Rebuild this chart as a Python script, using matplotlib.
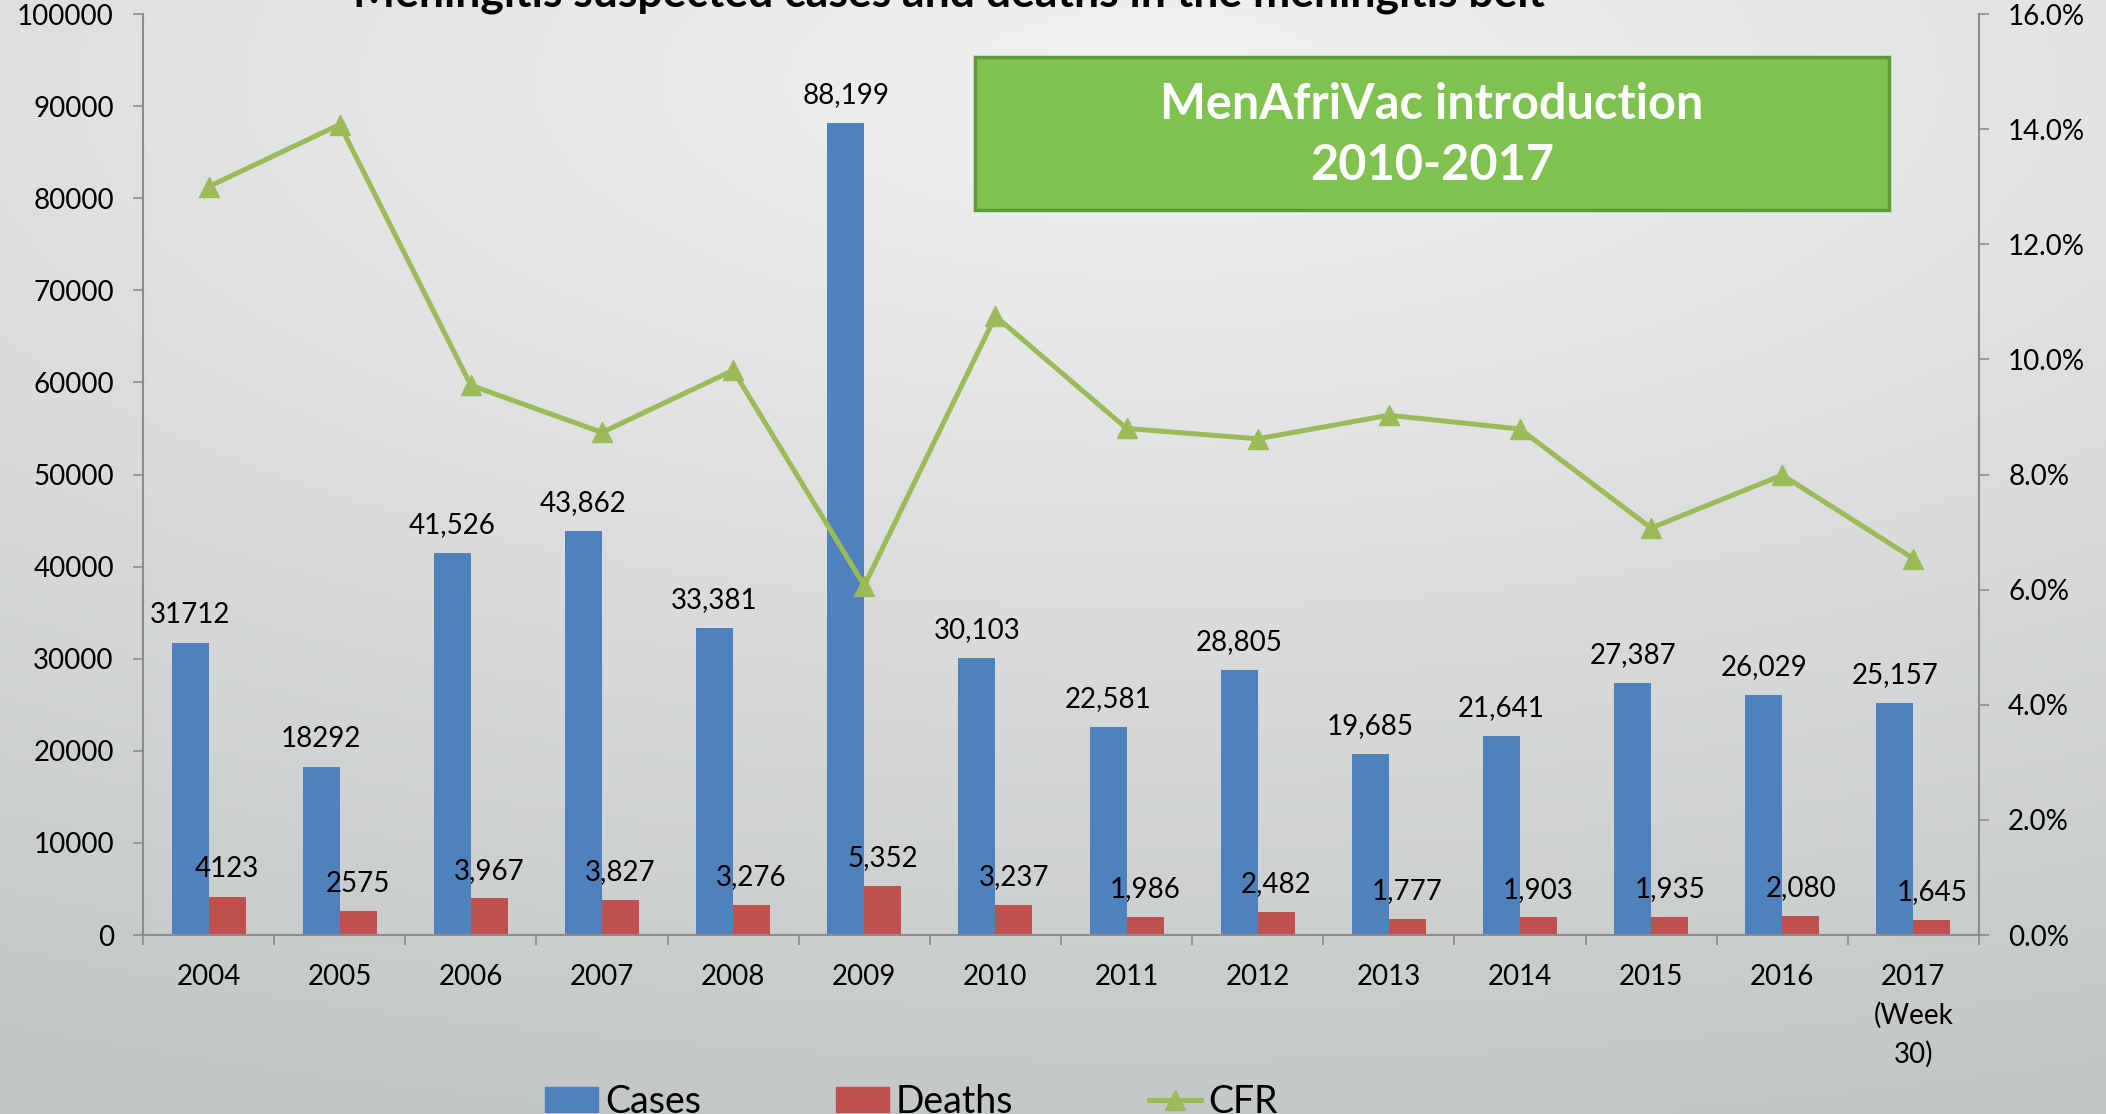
import numpy as np
import matplotlib.pyplot as plt
from matplotlib.patches import Rectangle, Patch
from matplotlib.lines import Line2D
from matplotlib.ticker import FuncFormatter, MultipleLocator

plt.rcParams['font.family'] = ['Lato', 'DejaVu Sans']

# data
years = ['2004', '2005', '2006', '2007', '2008', '2009', '2010', '2011',
         '2012', '2013', '2014', '2015', '2016', '2017\n(Week\n30)']
cases = [31712, 18292, 41526, 43862, 33381, 88199, 30103, 22581,
         28805, 19685, 21641, 27387, 26029, 25157]
deaths = [4123, 2575, 3967, 3827, 3276, 5352, 3237, 1986,
          2482, 1777, 1903, 1935, 2080, 1645]
cfr = [13.0, 14.08, 9.55, 8.73, 9.81, 6.07, 10.75, 8.80,
       8.62, 9.03, 8.79, 7.07, 7.99, 6.54]

blue = '#4f81bd'
red = '#c0504d'
green = '#9bbb59'
axis_grey = '#8c8c8c'

W, H = 2106, 1114
fig = plt.figure(figsize=(W / 100, H / 100), dpi=100)

# soft grey gradient background
bg = fig.add_axes([0, 0, 1, 1], zorder=-10)
yy, xx = np.mgrid[0:H:4, 0:W:4]
t = np.sqrt(((xx - 1150) / 3000) ** 2 + ((yy - 80) / 1200) ** 2)
t = np.clip(t, 0, 1)
light = np.array([0xf2, 0xf2, 0xf2]) / 255
dark = np.array([0xbd, 0xc1, 0xc2]) / 255
img = light + (dark - light) * t[..., None]
bg.imshow(img, aspect='auto', extent=[0, 1, 0, 1], interpolation='bilinear')
bg.axis('off')

ax = fig.add_axes([143 / W, 179 / H, (1979 - 143) / W, (935 - 14) / H])
ax.set_facecolor('none')

x = np.arange(len(years))
bw = 0.282
ax.bar(x - bw / 2, cases, bw, color=blue, zorder=2)
ax.bar(x + bw / 2, deaths, bw, color=red, zorder=2)

for i, (c, d) in enumerate(zip(cases, deaths)):
    c_lab = f'{c:,}' if i >= 2 else str(c)
    d_lab = f'{d:,}' if i >= 2 else str(d)
    ax.annotate(c_lab, (x[i] - bw / 2, c), xytext=(0, 20), textcoords='offset points',
                ha='center', va='center', fontsize=20, zorder=5)
    ax.annotate(d_lab, (x[i] + bw / 2, d), xytext=(0, 20), textcoords='offset points',
                ha='center', va='center', fontsize=20, zorder=5)

ax.set_xlim(-0.5, len(years) - 0.5)
ax.set_ylim(0, 100000)
ax.yaxis.set_major_locator(MultipleLocator(10000))
ax.set_xticks(x)
ax.set_xticklabels(years, fontsize=20, linespacing=1.55)
ax.set_xticks(np.arange(-0.5, len(years)), minor=True)
ax.tick_params(axis='x', which='major', length=0, pad=21)
ax.tick_params(axis='x', which='minor', length=7, width=1.2, color=axis_grey, direction='out')
ax.tick_params(axis='y', labelsize=20, length=7, width=1.2, color=axis_grey, pad=14)

for side in ['top', 'right']:
    ax.spines[side].set_visible(False)
for side in ['left', 'bottom']:
    ax.spines[side].set_color(axis_grey)
    ax.spines[side].set_linewidth(1.5)

ax2 = ax.twinx()
ax2.plot(x, cfr, color=green, lw=3.6, marker='^', markersize=15, zorder=4)
ax2.set_ylim(0, 16)
ax2.yaxis.set_major_locator(MultipleLocator(2))
ax2.yaxis.set_major_formatter(FuncFormatter(lambda v, p: f'{v:.1f}%'))
ax2.tick_params(axis='y', labelsize=20, length=7, width=1.2, color=axis_grey, pad=14)
for side in ['top', 'left', 'bottom']:
    ax2.spines[side].set_visible(False)
ax2.spines['right'].set_color(axis_grey)
ax2.spines['right'].set_linewidth(1.5)

# title, cut off at the top edge
fig.text(949 / W, 1 - 6 / H, 'Meningitis suspected cases and deaths in the meningitis belt',
         ha='center', va='baseline', fontsize=32, fontweight='bold')

# green annotation box
fig.patches.append(Rectangle((975 / W, 1 - 210 / H), 914 / W, 153 / H,
                             transform=fig.transFigure, facecolor='#80c250',
                             edgecolor='#5e9a38', linewidth=2.5, zorder=3))
fig.text(1432 / W, 1 - 135 / H, 'MenAfriVac introduction\n2010-2017', ha='center', va='center',
         fontsize=35, fontweight='bold', color='white', linespacing=1.45, zorder=4)

handles = [Patch(color=blue, label='Cases'), Patch(color=red, label='Deaths'),
           Line2D([], [], color=green, lw=3.6, marker='^', markersize=15, label='CFR')]
fig.legend(handles=handles, loc='lower left', bbox_to_anchor=(545 / W, -6 / H), ncol=3,
           frameon=False, fontsize=27, handlelength=1.4, handleheight=0.65,
           handletextpad=0.2, columnspacing=3.6, borderpad=0, borderaxespad=0)

fig.savefig('out.png', dpi=100)
